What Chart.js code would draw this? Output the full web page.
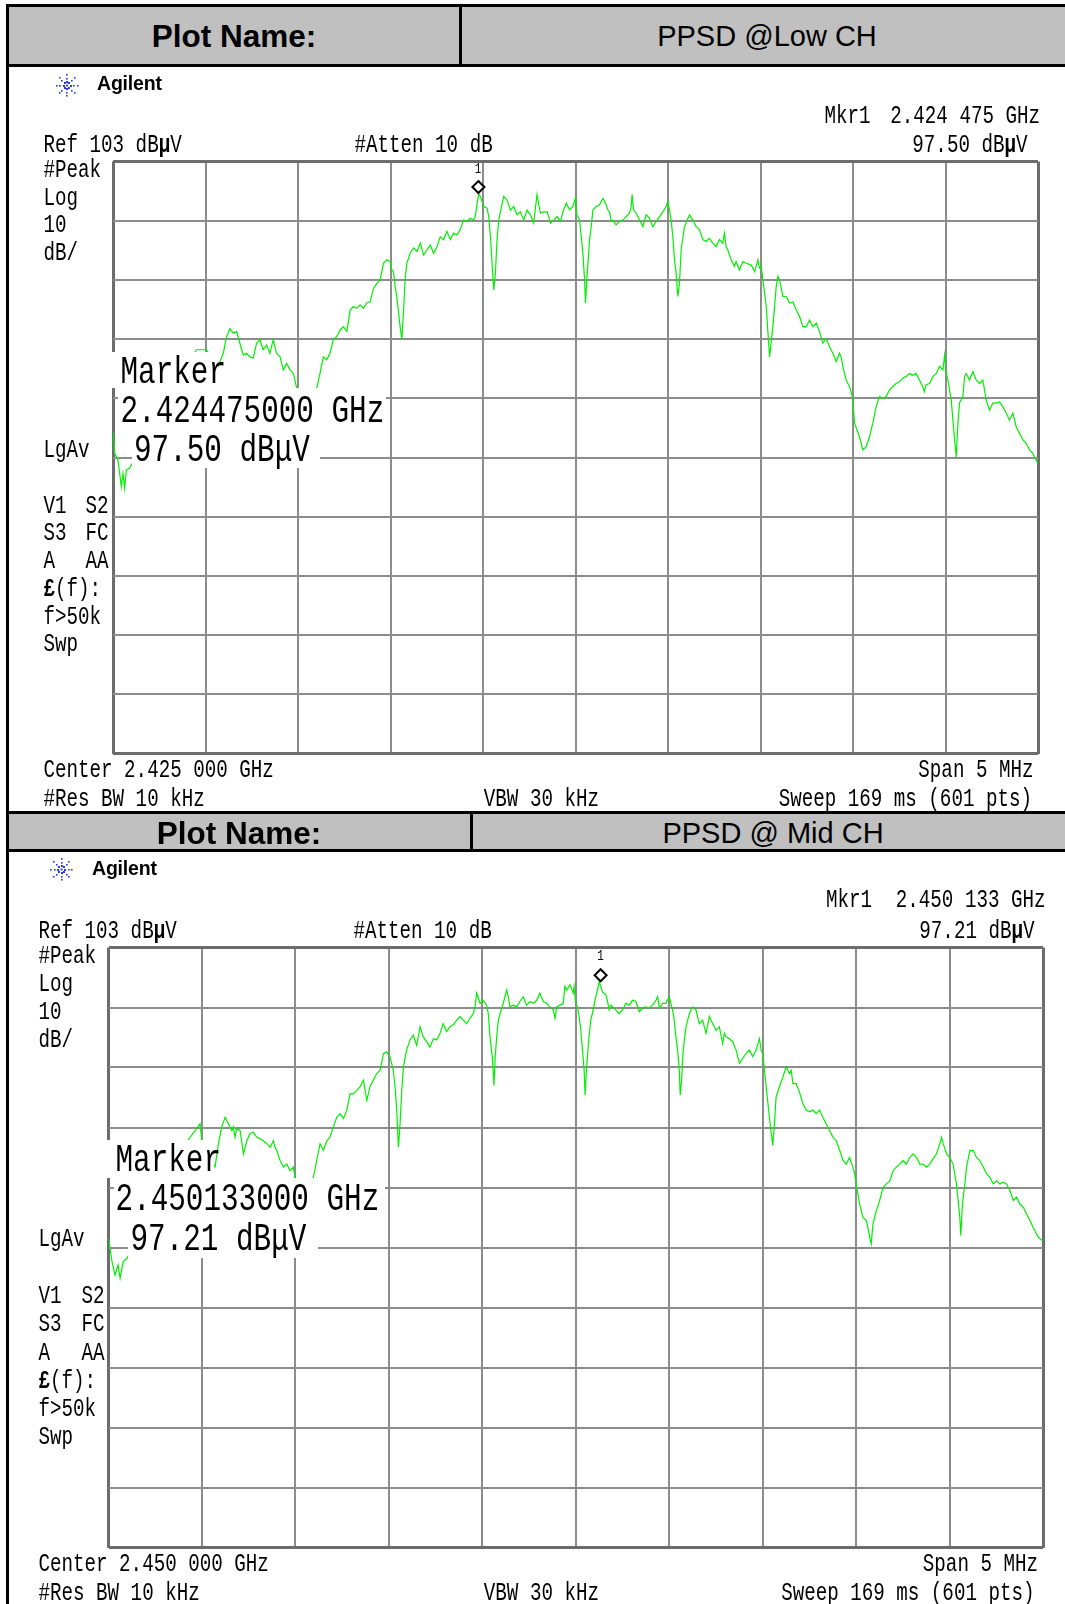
<!DOCTYPE html>
<html>
<head>
<meta charset="utf-8">
<title>PPSD</title>
<script src="https://cdn.jsdelivr.net/npm/chart.js@4.4.1/dist/chart.umd.min.js"></script>
<style>
  html, body { margin: 0; padding: 0; background: #fff; }
  body { width: 1065px; height: 1604px; position: relative; overflow: hidden; }
  .blk { position: absolute; background: #000; }
  .hdr { position: absolute; background: #c0c0c0; }
  .box { position: absolute; background: #fff; }
  .t { position: absolute; white-space: pre; color: #000; }
  canvas { position: absolute; }
</style>
</head>
<body>
<div class="hdr" style="left:9px;top:7px;width:1064px;height:57px"></div>
<div class="blk" style="left:6px;top:4px;width:1067px;height:3px"></div>
<div class="blk" style="left:6px;top:63.5px;width:1067px;height:3px"></div>
<div class="blk" style="left:459px;top:4px;width:3px;height:62px"></div>
<div class="hdr" style="left:9px;top:814px;width:1064px;height:35px"></div>
<div class="blk" style="left:6px;top:811px;width:1067px;height:3px"></div>
<div class="blk" style="left:6px;top:849px;width:1067px;height:3px"></div>
<div class="blk" style="left:469.5px;top:811px;width:3px;height:41px"></div>
<div class="blk" style="left:6px;top:4px;width:3px;height:1600px"></div>

<canvas id="lowChart" width="1055" height="744" style="left:10px;top:67px"></canvas>
<canvas id="midChart" width="1055" height="752" style="left:10px;top:852px"></canvas>

<script>
document.addEventListener("DOMContentLoaded", function () {

    'use strict';

    var lowFreq = [-2.500, -2.491, -2.473, -2.455, -2.446, -2.437, -2.428, -2.410, -2.049, -1.995,
        -1.931, -1.904, -1.886, -1.868, -1.850, -1.832, -1.814, -1.796, -1.778, -1.760,
        -1.742, -1.724, -1.706, -1.688, -1.670, -1.652, -1.634, -1.616, -1.597, -1.579,
        -1.561, -1.543, -1.525, -1.507, -1.453, -1.399, -1.381, -1.363, -1.345, -1.327,
        -1.309, -1.291, -1.273, -1.255, -1.236, -1.218, -1.200, -1.182, -1.164, -1.146,
        -1.128, -1.110, -1.092, -1.074, -1.056, -1.038, -1.020, -1.002, -0.993, -0.984,
        -0.975, -0.966, -0.948, -0.939, -0.930, -0.921, -0.912, -0.894, -0.875, -0.857,
        -0.839, -0.821, -0.803, -0.785, -0.767, -0.749, -0.731, -0.713, -0.695, -0.677,
        -0.659, -0.641, -0.623, -0.605, -0.587, -0.569, -0.551, -0.542, -0.524, -0.514,
        -0.496, -0.478, -0.469, -0.460, -0.451, -0.442, -0.433, -0.424, -0.415, -0.406,
        -0.388, -0.370, -0.352, -0.334, -0.316, -0.298, -0.280, -0.262, -0.244, -0.226,
        -0.208, -0.190, -0.172, -0.153, -0.135, -0.117, -0.099, -0.081, -0.068, -0.050,
        -0.032, -0.014, 0.000, 0.007, 0.022, 0.031, 0.040, 0.049, 0.054, 0.061,
        0.076, 0.085, 0.094, 0.112, 0.130, 0.148, 0.166, 0.175, 0.184, 0.193,
        0.202, 0.220, 0.238, 0.256, 0.274, 0.292, 0.301, 0.306, 0.314, 0.328,
        0.346, 0.364, 0.382, 0.400, 0.418, 0.436, 0.454, 0.472, 0.490, 0.499,
        0.508, 0.517, 0.526, 0.535, 0.544, 0.553, 0.562, 0.571, 0.589, 0.616,
        0.634, 0.652, 0.670, 0.688, 0.706, 0.724, 0.742, 0.760, 0.778, 0.796,
        0.805, 0.814, 0.823, 0.841, 0.859, 0.868, 0.886, 0.905, 0.923, 0.950,
        0.968, 0.986, 0.995, 1.004, 1.013, 1.031, 1.049, 1.067, 1.085, 1.094,
        1.103, 1.121, 1.139, 1.157, 1.175, 1.193, 1.211, 1.229, 1.247, 1.265,
        1.283, 1.301, 1.319, 1.337, 1.355, 1.373, 1.391, 1.409, 1.427, 1.436,
        1.445, 1.463, 1.481, 1.499, 1.508, 1.535, 1.553, 1.571, 1.589, 1.607,
        1.625, 1.643, 1.661, 1.679, 1.697, 1.715, 1.733, 1.751, 1.769, 1.787,
        1.805, 1.823, 1.841, 1.859, 1.877, 1.886, 1.895, 1.914, 1.932, 1.950,
        1.968, 1.986, 1.995, 2.004, 2.013, 2.031, 2.049, 2.058, 2.067, 2.076,
        2.094, 2.103, 2.112, 2.130, 2.148, 2.166, 2.184, 2.202, 2.220, 2.238,
        2.256, 2.274, 2.292, 2.310, 2.328, 2.346, 2.364, 2.382, 2.400, 2.418,
        2.436, 2.454, 2.472, 2.499];
    var lowLevel = [57.4, 53.7, 52.6, 48.1, 50.3, 47.8, 50.9, 51.2, 71.2, 71.2,
        68.4, 70.6, 73.4, 74.8, 74.0, 74.3, 72.3, 70.3, 70.6, 70.0,
        69.8, 72.3, 72.9, 71.2, 72.0, 70.6, 72.9, 70.6, 70.0, 67.8,
        68.9, 67.8, 67.2, 64.7, 63.3, 64.7, 67.2, 70.0, 69.5, 70.6,
        72.9, 73.4, 74.5, 75.1, 74.3, 77.9, 78.5, 78.2, 78.8, 78.2,
        79.1, 79.3, 81.6, 82.4, 83.0, 85.8, 86.4, 86.1, 84.7, 84.4,
        81.9, 80.2, 75.1, 72.9, 77.4, 83.0, 85.8, 87.5, 88.4, 87.8,
        89.2, 87.2, 88.1, 88.9, 87.5, 88.6, 90.3, 89.8, 91.2, 89.8,
        90.9, 90.6, 91.5, 93.1, 92.9, 93.4, 93.1, 93.7, 97.5, 97.1,
        95.4, 95.1, 93.7, 90.3, 85.8, 81.3, 84.1, 89.8, 93.1, 94.5,
        97.1, 96.5, 94.8, 95.4, 94.0, 94.5, 93.1, 94.8, 94.0, 92.6,
        97.4, 94.3, 94.5, 94.5, 92.6, 93.1, 93.7, 92.9, 94.5, 96.0,
        94.8, 95.4, 96.8, 94.0, 93.1, 90.3, 87.5, 83.0, 79.1, 83.0,
        89.8, 92.0, 94.8, 95.4, 95.7, 96.8, 95.7, 94.8, 94.5, 92.9,
        93.1, 92.3, 92.9, 93.1, 93.7, 94.3, 95.4, 97.4, 94.8, 94.3,
        93.1, 92.0, 94.0, 93.4, 92.0, 92.9, 93.7, 94.5, 95.4, 96.2,
        94.8, 93.1, 90.3, 86.4, 84.1, 80.2, 82.4, 88.1, 92.0, 94.0,
        93.1, 92.0, 91.5, 89.8, 89.5, 90.0, 89.2, 88.6, 89.8, 89.2,
        90.9, 88.6, 88.1, 86.4, 85.3, 86.1, 84.7, 86.1, 85.8, 85.5,
        84.4, 86.4, 85.0, 85.3, 83.0, 78.5, 70.0, 75.1, 81.9, 83.6,
        83.0, 80.2, 80.2, 79.1, 79.3, 77.9, 76.8, 75.1, 75.1, 76.2,
        75.1, 75.7, 74.3, 72.3, 73.1, 71.7, 70.6, 69.2, 70.6, 70.0,
        68.4, 66.1, 65.0, 63.0, 58.8, 56.5, 54.3, 54.8, 56.5, 58.8,
        61.6, 63.3, 63.0, 63.3, 64.4, 65.0, 65.5, 65.8, 66.4, 66.7,
        67.2, 66.9, 67.2, 66.1, 65.0, 64.1, 65.3, 65.5, 66.7, 67.2,
        68.4, 67.8, 70.3, 67.2, 66.1, 62.7, 56.0, 53.1, 58.8, 62.2,
        63.3, 66.7, 67.2, 66.1, 67.5, 66.1, 65.5, 66.1, 62.7, 61.0,
        62.2, 62.2, 62.4, 61.6, 60.5, 59.3, 60.5, 58.2, 57.1, 56.0,
        55.4, 54.3, 53.7, 52.0];

    var midFreq = [-2.500, -2.481, -2.465, -2.449, -2.438, -2.422, -2.401, -2.072, -2.010, -2.001,
        -1.930, -1.912, -1.894, -1.876, -1.858, -1.840, -1.832, -1.823, -1.814, -1.796,
        -1.778, -1.760, -1.742, -1.725, -1.707, -1.689, -1.671, -1.653, -1.635, -1.618,
        -1.609, -1.600, -1.582, -1.564, -1.546, -1.529, -1.511, -1.502, -1.457, -1.404,
        -1.386, -1.368, -1.350, -1.332, -1.315, -1.297, -1.279, -1.261, -1.243, -1.225,
        -1.208, -1.190, -1.172, -1.154, -1.136, -1.118, -1.101, -1.083, -1.065, -1.047,
        -1.029, -1.012, -0.994, -0.985, -0.976, -0.967, -0.958, -0.949, -0.940, -0.931,
        -0.922, -0.905, -0.887, -0.869, -0.851, -0.833, -0.816, -0.798, -0.780, -0.762,
        -0.744, -0.726, -0.709, -0.691, -0.673, -0.655, -0.637, -0.619, -0.602, -0.584,
        -0.566, -0.548, -0.539, -0.530, -0.512, -0.495, -0.477, -0.468, -0.459, -0.445,
        -0.438, -0.431, -0.423, -0.414, -0.405, -0.388, -0.370, -0.361, -0.352, -0.334,
        -0.316, -0.299, -0.281, -0.263, -0.245, -0.227, -0.209, -0.192, -0.174, -0.156,
        -0.138, -0.120, -0.111, -0.102, -0.085, -0.067, -0.058, -0.049, -0.031, -0.013,
        -0.009, 0.000, 0.009, 0.018, 0.027, 0.036, 0.045, 0.050, 0.057, 0.068,
        0.080, 0.089, 0.107, 0.116, 0.125, 0.134, 0.143, 0.161, 0.170, 0.179,
        0.188, 0.197, 0.214, 0.232, 0.250, 0.268, 0.286, 0.304, 0.322, 0.340,
        0.357, 0.375, 0.393, 0.411, 0.429, 0.438, 0.447, 0.465, 0.482, 0.500,
        0.509, 0.518, 0.527, 0.536, 0.545, 0.554, 0.559, 0.566, 0.575, 0.590,
        0.608, 0.625, 0.643, 0.661, 0.679, 0.697, 0.715, 0.733, 0.751, 0.768,
        0.786, 0.795, 0.804, 0.822, 0.840, 0.858, 0.876, 0.893, 0.911, 0.929,
        0.947, 0.965, 0.983, 0.992, 1.001, 1.010, 1.019, 1.036, 1.054, 1.063,
        1.072, 1.090, 1.108, 1.126, 1.144, 1.153, 1.162, 1.179, 1.197, 1.215,
        1.233, 1.251, 1.269, 1.287, 1.305, 1.322, 1.340, 1.358, 1.376, 1.394,
        1.412, 1.430, 1.447, 1.465, 1.483, 1.492, 1.501, 1.519, 1.537, 1.555,
        1.573, 1.581, 1.590, 1.608, 1.626, 1.644, 1.662, 1.680, 1.698, 1.715,
        1.733, 1.751, 1.769, 1.787, 1.805, 1.823, 1.841, 1.858, 1.876, 1.894,
        1.912, 1.930, 1.948, 1.957, 1.966, 1.984, 2.001, 2.019, 2.037, 2.055,
        2.060, 2.069, 2.082, 2.091, 2.109, 2.127, 2.144, 2.162, 2.180, 2.198,
        2.216, 2.234, 2.252, 2.269, 2.287, 2.305, 2.323, 2.341, 2.359, 2.377,
        2.395, 2.412, 2.430, 2.448, 2.475, 2.498];
    var midLevel = [54.6, 50.6, 48.4, 50.1, 47.9, 50.6, 51.2, 71.0, 73.6, 70.8,
        66.4, 70.3, 73.1, 74.7, 73.6, 72.5, 73.1, 71.4, 72.8, 72.5,
        68.6, 70.8, 72.0, 72.2, 71.4, 71.1, 70.8, 70.3, 69.7, 70.8,
        69.7, 69.2, 67.5, 66.4, 66.9, 65.8, 66.4, 64.7, 63.0, 64.7,
        67.5, 70.3, 69.2, 70.8, 71.4, 73.1, 74.7, 75.3, 74.5, 75.9,
        78.6, 78.6, 79.2, 79.8, 80.9, 77.5, 79.8, 80.9, 82.0, 82.5,
        85.3, 85.6, 84.8, 83.7, 82.5, 79.8, 75.9, 69.7, 73.6, 79.2,
        83.1, 85.9, 87.6, 88.4, 86.7, 89.8, 88.1, 87.3, 86.4, 87.8,
        87.6, 88.7, 90.3, 89.0, 89.8, 90.1, 90.9, 91.5, 90.9, 90.3,
        91.2, 92.0, 93.1, 95.4, 93.7, 94.2, 93.4, 92.0, 88.1, 84.2,
        80.0, 84.8, 88.1, 90.9, 92.0, 93.7, 95.9, 94.8, 93.1, 93.4,
        93.1, 94.0, 94.8, 93.4, 94.0, 93.7, 94.2, 95.4, 94.0, 93.7,
        93.1, 92.6, 91.2, 93.1, 93.4, 93.7, 96.5, 95.9, 96.8, 95.4,
        96.5, 93.7, 93.1, 91.5, 89.2, 85.9, 82.5, 78.4, 82.5, 87.0,
        90.9, 92.0, 94.8, 95.9, 97.3, 96.5, 95.6, 95.1, 94.0, 92.6,
        93.4, 93.1, 92.6, 92.0, 92.6, 93.7, 93.4, 94.2, 94.0, 92.3,
        92.9, 93.1, 92.9, 93.4, 94.2, 94.8, 92.9, 93.7, 93.7, 94.8,
        93.7, 92.6, 90.9, 88.1, 85.9, 82.5, 78.4, 80.9, 85.9, 89.8,
        92.0, 93.1, 92.6, 90.3, 90.9, 88.7, 91.5, 90.3, 89.2, 89.8,
        87.0, 88.7, 88.1, 87.8, 87.3, 85.9, 83.7, 84.5, 85.3, 85.9,
        84.8, 85.9, 87.8, 85.9, 85.3, 82.5, 79.8, 74.7, 70.0, 73.6,
        78.1, 79.8, 81.4, 83.1, 82.0, 82.5, 80.3, 80.3, 78.9, 77.0,
        75.9, 75.6, 75.9, 75.3, 75.9, 74.7, 73.6, 72.5, 71.4, 70.8,
        69.2, 67.5, 66.9, 68.0, 66.4, 65.3, 63.6, 60.2, 58.0, 57.5,
        54.7, 53.6, 56.9, 59.1, 60.8, 63.0, 63.6, 64.1, 65.8, 66.4,
        66.9, 67.5, 66.9, 68.0, 68.6, 68.0, 66.9, 66.9, 66.4, 66.9,
        67.8, 68.6, 70.3, 71.4, 70.3, 68.6, 68.0, 66.9, 63.6, 58.0,
        55.0, 60.2, 63.6, 66.4, 69.2, 69.2, 68.0, 67.5, 66.4, 65.3,
        64.7, 63.6, 64.1, 63.6, 63.9, 63.6, 62.5, 60.8, 61.4, 60.2,
        59.7, 58.6, 57.5, 56.3, 54.7, 54.1];

    // marker 1 readouts
    var markerFreq = [-0.525, 0.133];     // MHz from centre
    var markerLevel = [97.50, 97.21];     // dBuV
    var markerFreqText = ['2.424475000 GHz', '2.450133000 GHz'];
    var markerReadout = ['2.424 475 GHz', '2.450 133 GHz'];
    var markerLevelText = ['97.50', '97.21'];
    var centerText = ['Center 2.425 000 GHz', 'Center 2.450 000 GHz'];
    var plotNames = ['PPSD @Low CH', 'PPSD @ Mid CH'];

    // screen setup
    var refLevel = 103;
    var dbPerDiv = 10;
    var spanMHz = 5;

    var MONO = '"Liberation Mono", "DejaVu Sans Mono", monospace';
    var SANS = '"Liberation Sans", Arial, sans-serif';
    var SM = 19.2, KM = 1.30;   // small analyser text
    var LG = 29.3, KL = 1.33;   // big marker text

    function put(html, x, base, o) {
        var s = o.size, k = o.k || 1;
        var asc = o.font === SANS ? 0.8465 : 0.766;
        var el = document.createElement('div');
        el.className = 't';
        el.innerHTML = html;
        el.style.fontFamily = o.font;
        el.style.fontSize = s + 'px';
        el.style.lineHeight = s + 'px';
        el.style.fontWeight = o.bold ? 'bold' : 'normal';
        if (o.ls) el.style.letterSpacing = o.ls + 'px';
        el.style.left = x + 'px';
        el.style.top = (base - asc * s) + 'px';
        var tf = '';
        if (o.align === 'r') tf += 'translateX(-100%) ';
        if (o.align === 'c') tf += 'translateX(-50%) ';
        if (k !== 1) tf += 'scaleY(' + k + ')';
        el.style.transform = tf;
        el.style.transformOrigin = '0 ' + (asc * s) + 'px';
        document.body.appendChild(el);
    }

    function box(x, y, w, h) {
        var el = document.createElement('div');
        el.className = 'box';
        el.style.left = x + 'px';
        el.style.top = y + 'px';
        el.style.width = w + 'px';
        el.style.height = h + 'px';
        document.body.appendChild(el);
    }

    function small(txt, x, base, align) {
        put(txt, x, base, { font: MONO, size: SM, k: KM, align: align || 'l' });
    }

    var mu = 'dB<b>\u03bc</b>V';

    // panel layouts (page pixels)
    var panels = [
        { id: 'lowChart', top: 67, pad: { left: 103, top: 94.5, right: 27, bottom: 57.5 },
          star: [57, 18.5], agilent: [97, 91], tx: 43.5, col2: 108.5,
          mkr: [824.5, 1040, 123.5], row1: 152.5, atten: 354.5, lvlRight: 1027.5,
          one: [478, 173.5],
          left1: [177.5, 205.5, 233, 260.5], lgav: 458, left2: [513.5, 541.2, 568.9, 596.6, 624.3, 652],
          foot1: 778, foot2: 807, spanR: 1033.5, sweepR: 1032,
          boxes: [[111, 352, 107, 35.5], [118, 387.5, 268, 40.5], [132, 428, 188, 40]],
          big: [[120.5, 383.5], [120.5, 422], [134, 461.5]],
          hdr: [234, 48, 767, 47] },
        { id: 'midChart', top: 852, pad: { left: 98.5, top: 95.5, right: 22, bottom: 56.5 },
          star: [51.5, 17.5], agilent: [92, 876], tx: 38.5, col2: 104.5,
          mkr: [826, 1045.5, 908], row1: 938.3, atten: 353.5, lvlRight: 1034.5,
          one: [600.5, 960.5],
          left1: [963.8, 991.8, 1019.8, 1047.8], lgav: 1247, left2: [1304, 1332.2, 1360.4, 1388.6, 1416.8, 1445],
          foot1: 1571.5, foot2: 1601, spanR: 1038, sweepR: 1034.5,
          boxes: [[106.5, 1139.5, 107, 38.5], [114, 1178, 271, 40], [128, 1218, 190, 40]],
          big: [[115.5, 1171.7], [115.5, 1210], [130.5, 1250]],
          hdr: [239, 844.5, 773, 843.5] }
    ];

    function drawStar(c, x, y) {
        c.fillStyle = '#2b3bd8';
        for (var a = 0; a < 8; a++) {
            var ang = a * Math.PI / 4;
            for (var r = 3.5; r <= 11; r += 3.5) {
                var sz = r < 5 ? 2 : 1.6;
                c.fillRect(Math.round(x + Math.cos(ang) * r - sz / 2), Math.round(y + Math.sin(ang) * r - sz / 2), sz, sz);
            }
        }
        c.fillRect(x - 1, y - 1, 2, 2);
    }

    function edge(ctx) {
        return ctx.index === 0 || ctx.index === 10;
    }

    var gridOpt = {
        drawTicks: false,
        color: function (ctx) { return edge(ctx) ? '#6c6c6c' : '#8c8c8c'; },
        lineWidth: function (ctx) { return edge(ctx) ? 3 : 2; }
    };

    panels.forEach(function (p, n) {
        var freq = n === 0 ? lowFreq : midFreq;
        var level = n === 0 ? lowLevel : midLevel;
        var pts = freq.map(function (f, i) { return { x: f, y: level[i] }; });

        var deco = {
            id: 'deco',
            afterDatasetsDraw: function (chart) {
                var c = chart.ctx;
                var px = chart.scales.x.getPixelForValue(markerFreq[n]);
                var py = chart.scales.y.getPixelForValue(markerLevel[n]) - 7;
                c.save();
                c.beginPath();
                c.moveTo(px, py - 6);
                c.lineTo(px + 6, py);
                c.lineTo(px, py + 6);
                c.lineTo(px - 6, py);
                c.closePath();
                c.fillStyle = '#fff';
                c.fill();
                c.lineWidth = 2;
                c.strokeStyle = '#000';
                c.stroke();
                drawStar(c, p.star[0], p.star[1]);
                c.restore();
            }
        };

        new Chart(document.getElementById(p.id), {
            type: 'scatter',
            data: {
                datasets: [{
                    data: pts,
                    showLine: true,
                    borderColor: '#00f000',
                    borderWidth: 1.2,
                    pointRadius: 0,
                    tension: 0
                }]
            },
            options: {
                responsive: false,
                animation: false,
                devicePixelRatio: 1,
                events: [],
                layout: { padding: p.pad },
                plugins: { legend: { display: false }, tooltip: { enabled: false } },
                scales: {
                    x: {
                        type: 'linear', min: -spanMHz / 2, max: spanMHz / 2,
                        ticks: { display: false, stepSize: spanMHz / 10 },
                        grid: gridOpt, border: { display: false },
                        afterFit: function (s) { s.height = 0; }
                    },
                    y: {
                        type: 'linear', min: refLevel - 10 * dbPerDiv, max: refLevel,
                        ticks: { display: false, stepSize: dbPerDiv },
                        grid: gridOpt, border: { display: false },
                        afterFit: function (s) { s.width = 0; }
                    }
                }
            },
            plugins: [deco]
        });

        // headers
        put('Plot Name:', p.hdr[0], p.hdr[1], { font: SANS, size: 31.5, bold: true, align: 'c' });
        put(plotNames[n], p.hdr[2], p.hdr[3], { font: SANS, size: 29, align: 'c' });
        put('Agilent', p.agilent[0], p.agilent[1], { font: SANS, size: 19.5, bold: true, ls: -0.2 });

        // top readouts
        small('Mkr1', p.mkr[0], p.mkr[2]);
        small(markerReadout[n], p.mkr[1], p.mkr[2], 'r');
        small('Ref ' + refLevel + ' ' + mu, p.tx, p.row1);
        small('#Atten 10 dB', p.atten, p.row1);
        small(markerLevelText[n] + ' ' + mu, p.lvlRight, p.row1, 'r');
        put('1', p.one[0], p.one[1], { font: MONO, size: 11, k: 1.3, align: 'c' });

        // left annotation column
        ['#Peak', 'Log', '' + dbPerDiv, 'dB/'].forEach(function (s, i) { small(s, p.tx, p.left1[i]); });
        small('LgAv', p.tx, p.lgav);
        var c1 = ['V1', 'S3', 'A', '<b>\u00a3</b>(f):', 'f&gt;50k', 'Swp'];
        var c2 = ['S2', 'FC', 'AA', '', '', ''];
        c1.forEach(function (s, i) {
            small(s, p.tx, p.left2[i]);
            if (c2[i]) small(c2[i], p.col2, p.left2[i], 'r');
        });

        // footer
        small(centerText[n], p.tx, p.foot1);
        small('Span ' + spanMHz + ' MHz', p.spanR, p.foot1, 'r');
        small('#Res BW 10 kHz', p.tx, p.foot2);
        small('VBW 30 kHz', 599, p.foot2, 'r');
        small('Sweep 169 ms (601 pts)', p.sweepR, p.foot2, 'r');

        // marker annotation with its white backing
        p.boxes.forEach(function (b) { box(b[0], b[1], b[2], b[3]); });
        var big = ['Marker', markerFreqText[n], markerLevelText[n] + ' dB\u03bcV'];
        big.forEach(function (s, i) {
            put(s, p.big[i][0], p.big[i][1], { font: MONO, size: LG, k: KL });
        });
    });

});
</script>
</body>
</html>
